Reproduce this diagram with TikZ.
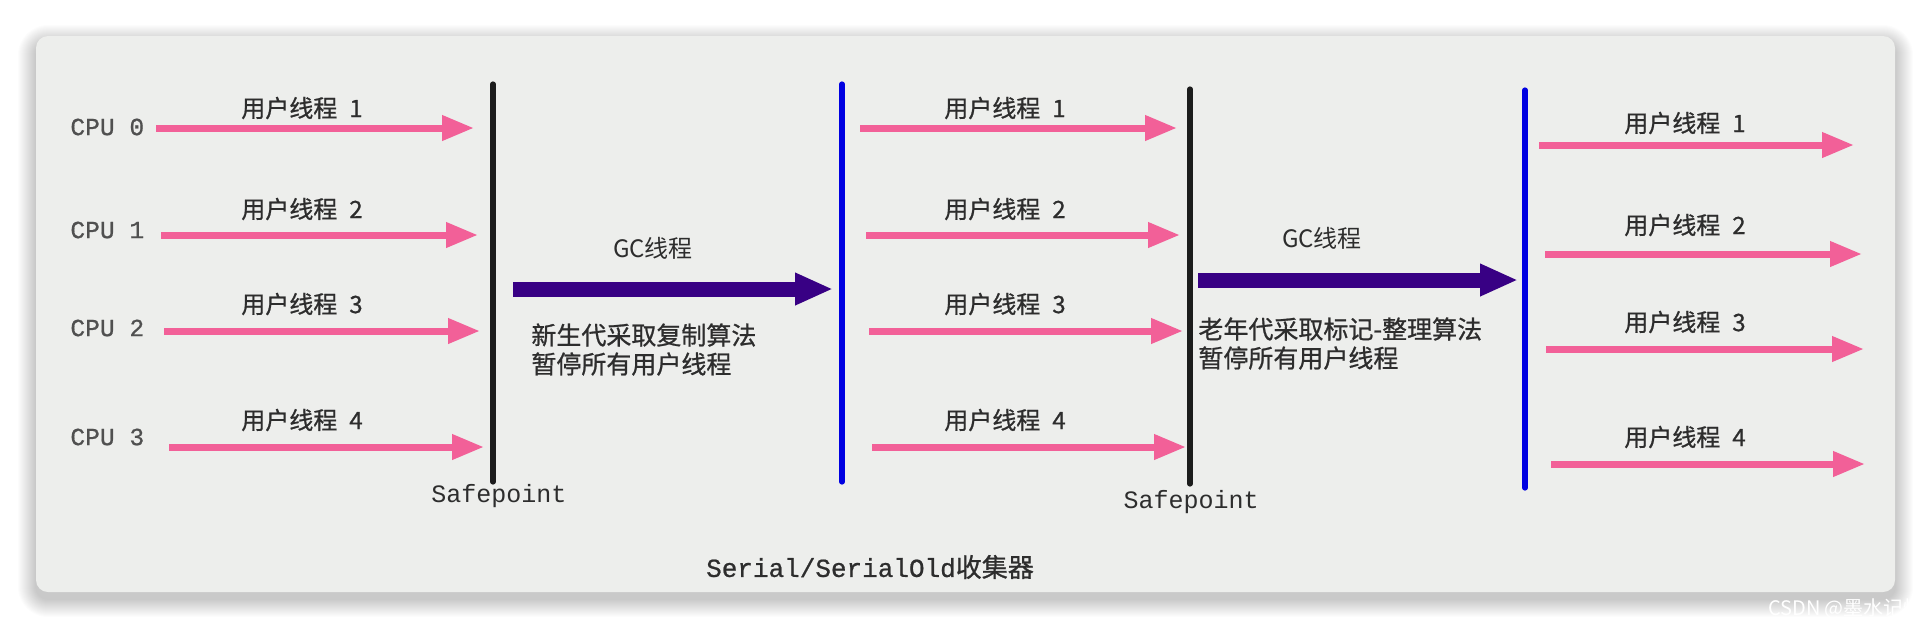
\documentclass[tikz,border=0pt]{standalone}
\usepackage{fontspec}
\newfontfamily\cjk[FakeBold=0.9]{Noto Sans CJK SC}
\newfontfamily\cjkplain{Noto Sans CJK SC}
\newfontfamily\mono[FakeBold=0.8]{Liberation Mono}
\newfontfamily\monoplain{Liberation Mono}
\usetikzlibrary{arrows.meta}
\definecolor{pinkarrow}{RGB}{242,96,152}
\definecolor{gcarrow}{RGB}{56,0,132}
\definecolor{bluebar}{RGB}{0,0,225}
\definecolor{blackbar}{RGB}{28,28,28}
\definecolor{cardbg}{RGB}{237,238,236}
\definecolor{txt}{RGB}{45,45,45}
\definecolor{monotxt}{RGB}{80,80,80}
\begin{document}
\begin{tikzpicture}[x=0.5pt,y=-0.5pt,
  userarrow/.style={draw=pinkarrow, line width=3.5pt, -{Triangle[length=16pt,width=12pt]}},
  gcarr/.style={draw=gcarrow, line width=7.5pt, -{Triangle[length=19pt,width=15pt]}},
  sbar/.style={draw=blackbar, line width=2.6pt, line cap=round},
  bbar/.style={draw=bluebar, line width=2.6pt, line cap=round},
  ulabel/.style={font=\cjk\fontsize{12pt}{14pt}\selectfont, text=txt, inner sep=0pt},
  cpulabel/.style={font=\mono\fontsize{12.3pt}{14pt}\selectfont, text=monotxt, anchor=west, inner sep=0pt},
  safelabel/.style={font=\monoplain\fontsize{12.5pt}{14pt}\selectfont, text=txt, inner sep=0pt},
  gclabel/.style={font=\cjkplain\fontsize{12pt}{14pt}\selectfont, text=txt, inner sep=0pt},
  desc/.style={font=\cjk\fontsize{12.5pt}{14pt}\selectfont, text=txt, anchor=west, inner sep=0pt},
]
\useasboundingbox (0,0) rectangle (1932,628);
\fill[white] (0,0) rectangle (1932,628);
% shadow
\foreach \i in {1,...,18}{
  \fill[black, opacity=0.012, rounded corners=6pt+\i*0.5pt]
    (36-\i,36-\i+7) rectangle (1895+\i,592+\i+7);
}
% card
\fill[cardbg, rounded corners=6pt] (36,36) rectangle (1895,592);

% CPU labels
\node[cpulabel] (cpu0) at (70,127) {CPU 0};
\node[cpulabel] (cpu1) at (70,230) {CPU 1};
\node[cpulabel] (cpu2) at (70,328) {CPU 2};
\node[cpulabel] (cpu3) at (70,437) {CPU 3};

% Section A user threads
\coordinate (a1s) at (156,128); \coordinate (a1e) at (474,128);
\coordinate (a2s) at (161,235); \coordinate (a2e) at (478,235);
\coordinate (a3s) at (164,331); \coordinate (a3e) at (480,331);
\coordinate (a4s) at (169,447); \coordinate (a4e) at (484,447);
\draw[userarrow] (a1s) -- (a1e);
\draw[userarrow] (a2s) -- (a2e);
\draw[userarrow] (a3s) -- (a3e);
\draw[userarrow] (a4s) -- (a4e);
\node[ulabel] (la1) at (302,108) {用户线程\hspace{6pt}1};
\node[ulabel] (la2) at (302,209) {用户线程\hspace{6pt}2};
\node[ulabel] (la3) at (302,304) {用户线程\hspace{6pt}3};
\node[ulabel] (la4) at (302,420) {用户线程\hspace{6pt}4};

% Safepoint 1
\coordinate (s1t) at (493,84); \coordinate (s1b) at (493,482);
\draw[sbar] (s1t) -- (s1b);
\node[safelabel] (sp1) at (499,496) {Safepoint};

% GC 1
\coordinate (g1s) at (513,289); \coordinate (g1e) at (833,289);
\draw[gcarr] (g1s) -- (g1e);
\node[gclabel] (gc1) at (653,248) {GC线程};
\node[desc] (d1a) at (531,335) {新生代采取复制算法};
\node[desc] (d1b) at (531,364) {暂停所有用户线程};

% Blue bar 1
\coordinate (b1t) at (842,84); \coordinate (b1b) at (842,482);
\draw[bbar] (b1t) -- (b1b);

% Section B user threads
\coordinate (b1s) at (860,128); \coordinate (b1e) at (1177,128);
\coordinate (b2s) at (866,235); \coordinate (b2e) at (1180,235);
\coordinate (b3s) at (869,331); \coordinate (b3e) at (1183,331);
\coordinate (b4s) at (872,447); \coordinate (b4e) at (1186,447);
\draw[userarrow] (b1s) -- (b1e);
\draw[userarrow] (b2s) -- (b2e);
\draw[userarrow] (b3s) -- (b3e);
\draw[userarrow] (b4s) -- (b4e);
\node[ulabel] (lb1) at (1005,108) {用户线程\hspace{6pt}1};
\node[ulabel] (lb2) at (1005,209) {用户线程\hspace{6pt}2};
\node[ulabel] (lb3) at (1005,304) {用户线程\hspace{6pt}3};
\node[ulabel] (lb4) at (1005,420) {用户线程\hspace{6pt}4};

% Safepoint 2
\coordinate (s2t) at (1190,89); \coordinate (s2b) at (1190,484);
\draw[sbar] (s2t) -- (s2b);
\node[safelabel] (sp2) at (1191,502) {Safepoint};

% GC 2
\coordinate (g2s) at (1198,280); \coordinate (g2e) at (1518,280);
\draw[gcarr] (g2s) -- (g2e);
\node[gclabel] (gc2) at (1322,238) {GC线程};
\node[desc] (d2a) at (1198,329) {老年代采取标记-整理算法};
\node[desc] (d2b) at (1198,358) {暂停所有用户线程};

% Blue bar 2
\coordinate (b2t) at (1525,90); \coordinate (b2b) at (1525,488);
\draw[bbar] (b2t) -- (b2b);

% Section C user threads
\coordinate (c1s) at (1539,145); \coordinate (c1e) at (1854,145);
\coordinate (c2s) at (1545,254); \coordinate (c2e) at (1862,254);
\coordinate (c3s) at (1546,349); \coordinate (c3e) at (1864,349);
\coordinate (c4s) at (1551,464); \coordinate (c4e) at (1865,464);
\draw[userarrow] (c1s) -- (c1e);
\draw[userarrow] (c2s) -- (c2e);
\draw[userarrow] (c3s) -- (c3e);
\draw[userarrow] (c4s) -- (c4e);
\node[ulabel] (lc1) at (1685,123) {用户线程\hspace{6pt}1};
\node[ulabel] (lc2) at (1685,225) {用户线程\hspace{6pt}2};
\node[ulabel] (lc3) at (1685,322) {用户线程\hspace{6pt}3};
\node[ulabel] (lc4) at (1685,437) {用户线程\hspace{6pt}4};

% Title
\node[inner sep=0pt, text=txt] (title) at (870,567)
  {{\mono\fontsize{13pt}{15pt}\selectfont Serial/SerialOld}{\cjk\fontsize{13pt}{15pt}\selectfont 收集器}};

% watermark
\node[font=\cjkplain\fontsize{10pt}{12pt}\selectfont, text=white, inner sep=0pt] (wm) at (1846,609) {CSDN @墨水记忆};
\end{tikzpicture}
\end{document}
